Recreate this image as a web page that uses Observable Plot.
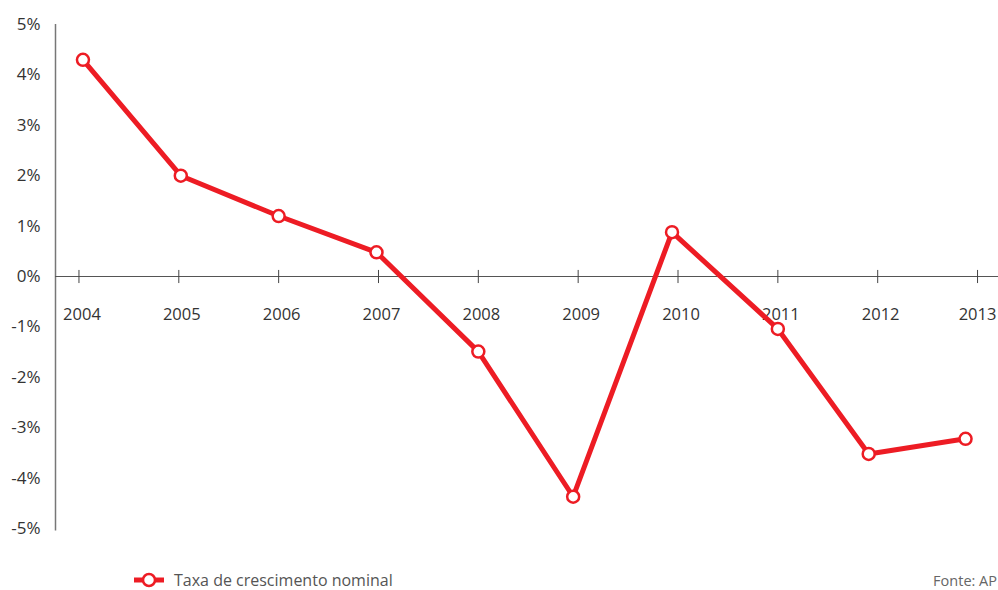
<!DOCTYPE html>
<html>
<head>
<meta charset="utf-8">
<script src="https://cdn.jsdelivr.net/npm/d3@7"></script>
<script src="https://cdn.jsdelivr.net/npm/@observablehq/plot@0.6"></script>
<style>
  body { margin: 0; background: #fff; font-family: "Open Sans", sans-serif; }
  #wrap { width: 998px; }
  #legend { position: relative; height: 30px; width: 998px; font-size: 16px; color: #555; }
  #legend .item { position: absolute; left: 133px; top: 9px; display: flex; align-items: center; }
  #legend .src { position: absolute; right: 1px; top: 11px; font-size: 14.5px; color: #666; }
</style>
</head>
<body>
<div id="wrap"></div>
<script>
// Data
const years = [2004, 2005, 2006, 2007, 2008, 2009, 2010, 2011, 2012, 2013];
// horizontal position of each plotted point, in years (points sit slightly off the year ticks)
const pointYear = [2004.04, 2005.02, 2006.0, 2006.98, 2008.0, 2008.95, 2009.94, 2011.0, 2011.91, 2012.88];
const growth = [4.30, 2.00, 1.20, 0.48, -1.49, -4.37, 0.88, -1.04, -3.52, -3.22];
const yTicks = [-5, -4, -3, -2, -1, 0, 1, 2, 3, 4, 5];
const seriesName = "Taxa de crescimento nominal";
const source = "Fonte: AP";

const data = years.map((y, i) => ({year: y, x: pointYear[i], v: growth[i]}));
const red = "#ED1C24";
const lastYear = years[years.length - 1];

const chart = Plot.plot({
  width: 998,
  height: 560,
  marginLeft: 55,
  marginRight: 0,
  marginTop: 24,
  marginBottom: 32,
  style: {fontFamily: "'Open Sans', sans-serif", fontSize: "17px", color: "#333", background: "#fff"},
  x: {domain: [2003.765, 2013.21], axis: null},
  y: {domain: [-5, 5], axis: null},
  marks: [
    Plot.ruleX([2003.765], {y1: -5.05, y2: 5, stroke: "#777", strokeWidth: 1.5}),
    Plot.text(yTicks, {x: 2003.765, y: d => d, text: d => d + "%", textAnchor: "end", dx: -15, fill: "#333", fontSize: 17}),
    Plot.ruleY([0], {stroke: "#555", strokeWidth: 1}),
    Plot.ruleX(years, {x: d => d, y1: -0.14, y2: 0.12, stroke: "#444", strokeWidth: 1}),
    Plot.text(years.filter(d => d !== lastYear), {x: d => d, y: 0, text: d => String(d), dy: 38, dx: 3, fill: "#333", fontSize: 16.5}),
    Plot.text([lastYear], {x: d => d, y: 0, text: d => String(d), dy: 38, dx: 0, fill: "#333", fontSize: 16.5}),
    Plot.line(data, {x: "x", y: "v", stroke: red, strokeWidth: 5, strokeLinejoin: "miter"}),
    Plot.dot(data, {x: "x", y: "v", r: 6, fill: "#fff", stroke: red, strokeWidth: 2.5})
  ]
});

const wrap = document.getElementById("wrap");
wrap.appendChild(chart);

const legend = document.createElement("div");
legend.id = "legend";
legend.innerHTML = `
  <div class="item">
    <svg width="32" height="20" style="margin-right:9px">
      <line x1="1" y1="10" x2="31" y2="10" stroke="${red}" stroke-width="5"></line>
      <circle cx="16" cy="10" r="6" fill="#fff" stroke="${red}" stroke-width="2.5"></circle>
    </svg>
    <span>${seriesName}</span>
  </div>
  <div class="src">${source}</div>`;
wrap.appendChild(legend);
</script>
</body>
</html>
